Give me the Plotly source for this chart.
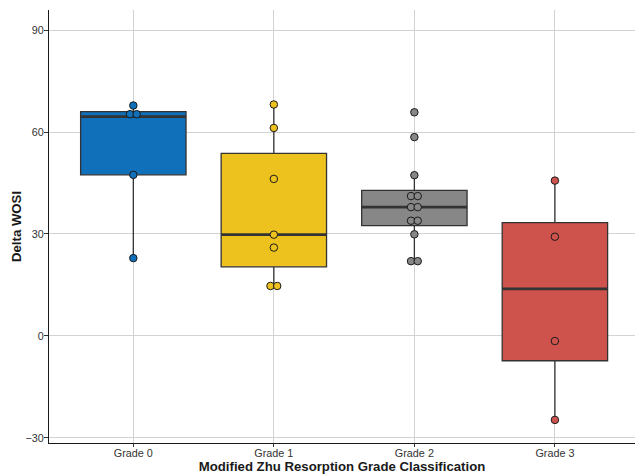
import numpy as np
import plotly.graph_objects as go

categories = ["Grade 0", "Grade 1", "Grade 2", "Grade 3"]
grade0 = [22.9, 47.4, 64.5, 66.0, 67.8]
grade1 = [14.7, 14.7, 26.0, 29.8, 46.2, 61.2, 68.1]
grade2 = [22.0, 22.0, 29.9, 33.3, 34.5, 37.9, 37.9, 41.0, 41.3, 47.3, 58.5, 65.8]
grade3 = [-24.7, -1.5, 29.2, 45.7]
colors = ["#1070BA", "#EDC11E", "#878787", "#CF534D"]
y_ticks = [-30, 0, 30, 60, 90]

groups = [grade0, grade1, grade2, grade3]

BOX_W = 0.75
BINW = 3.0
DOT_SPACING = 0.048
LINE_C = "#333333"

fig = go.Figure()


def box_stats(vals):
    v = np.sort(np.array(vals, dtype=float))
    q1, med, q3 = np.percentile(v, [25, 50, 75])
    iqr = q3 - q1
    lo = v[v >= q1 - 1.5 * iqr].min()
    hi = v[v <= q3 + 1.5 * iqr].max()
    return q1, med, q3, lo, hi


def dot_bins(vals, bw):
    v = sorted(vals)
    bins = []
    i = 0
    while i < len(v):
        start = v[i]
        members = [v[i]]
        j = i + 1
        while j < len(v) and v[j] < start + bw:
            members.append(v[j])
            j += 1
        bins.append(((min(members) + max(members)) / 2, len(members)))
        i = j
    return bins


for i, (vals, col) in enumerate(zip(groups, colors)):
    q1, med, q3, lo, hi = box_stats(vals)
    fig.add_trace(go.Box(
        x=[i], q1=[q1], median=[med], q3=[q3], lowerfence=[lo], upperfence=[hi],
        width=BOX_W, fillcolor=col, line=dict(color=LINE_C, width=1.3),
        whiskerwidth=0, boxpoints=False, showlegend=False, hoverinfo="skip",
    ))
    fig.add_trace(go.Scatter(
        x=[i - BOX_W / 2, i + BOX_W / 2], y=[med, med], mode="lines",
        line=dict(color=LINE_C, width=2.8), showlegend=False, hoverinfo="skip",
    ))

for i, (vals, col) in enumerate(zip(groups, colors)):
    xs, ys = [], []
    for center, n in dot_bins(vals, BINW):
        for k in range(n):
            xs.append(i + (k - (n - 1) / 2) * DOT_SPACING)
            ys.append(center)
    fig.add_trace(go.Scatter(
        x=xs, y=ys, mode="markers",
        marker=dict(size=7.5, color=col, line=dict(color="#1a1a1a", width=1)),
        showlegend=False, hoverinfo="skip",
    ))

fig.update_layout(
    width=635, height=475,
    margin=dict(l=49, r=0, t=10, b=32),
    plot_bgcolor="white", paper_bgcolor="white",
    font=dict(family="Liberation Sans, Arial, sans-serif", size=11, color="#333333"),
)
fig.update_xaxes(
    range=[-0.6, 3.57], tickvals=list(range(len(categories))), ticktext=categories,
    showgrid=True, gridcolor="#D3D3D3", gridwidth=1.2, zeroline=False,
    showline=True, linecolor="#1a1a1a", linewidth=1.2,
    ticks="outside", ticklen=3, tickcolor="#333333", ticklabelstandoff=-3,
    tickfont=dict(size=10.8, color="#333333"),
    title=dict(text="<b>Modified Zhu Resorption Grade Classification</b>",
               font=dict(size=13.2, color="#1a1a1a"), standoff=0),
    automargin=False,
)
fig.update_yaxes(
    range=[-31.5, 95.9], tickvals=y_ticks,
    showgrid=True, gridcolor="#D3D3D3", gridwidth=1.2, zeroline=False,
    showline=True, linecolor="#1a1a1a", linewidth=1.2,
    ticks="outside", ticklen=4, tickcolor="#333333", ticklabelstandoff=-2,
    tickfont=dict(size=10.8, color="#333333"),
    title=dict(text="<b>Delta WOSI</b>", font=dict(size=13.2, color="#1a1a1a"), standoff=0),
    automargin=False,
)

fig.write_html("out.html", config={"displayModeBar": False},
               post_script="document.body.style.margin='0';")
